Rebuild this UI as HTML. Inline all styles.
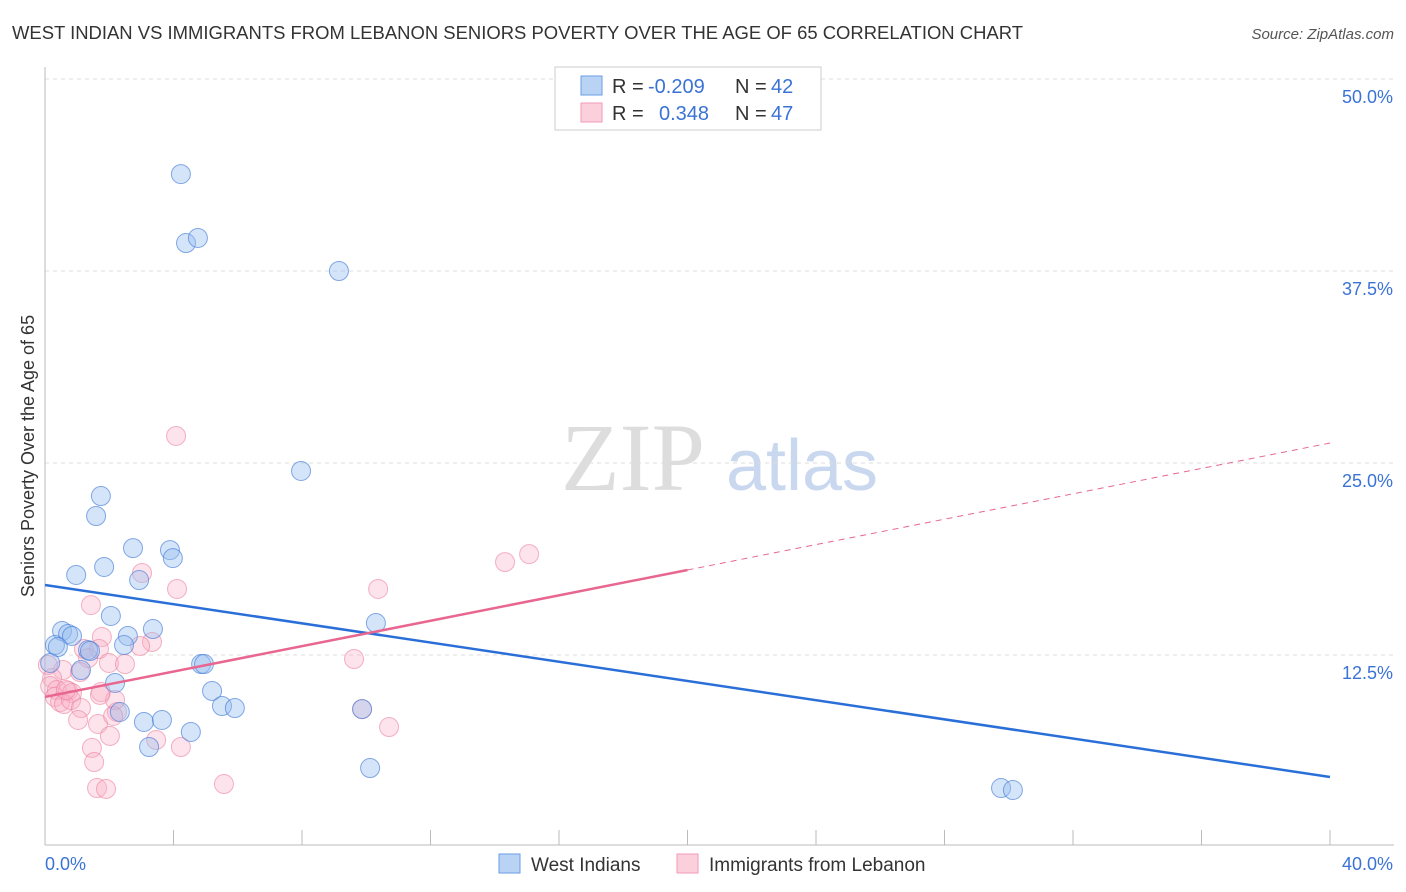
<!DOCTYPE html>
<html><head><meta charset="utf-8"><style>
body{margin:0;background:#fff;font-family:"Liberation Sans",sans-serif;}
svg{display:block}
</style></head><body>
<svg id="chart" width="1406" height="892">
<text x="12" y="39" font-size="18" fill="#333" textLength="1011" lengthAdjust="spacingAndGlyphs">WEST INDIAN VS IMMIGRANTS FROM LEBANON SENIORS POVERTY OVER THE AGE OF 65 CORRELATION CHART</text>
<text x="1394" y="39" font-size="15" fill="#555" font-style="italic" text-anchor="end">Source: ZipAtlas.com</text>
<text x="0" y="0" transform="translate(34,456) rotate(-90)" font-size="18" fill="#333" text-anchor="middle">Seniors Poverty Over the Age of 65</text>
<g><text x="633" y="490" font-size="96" fill="#ddd" font-family="Liberation Serif" text-anchor="middle">ZIP</text><text x="802" y="490" font-size="72" fill="#c9d8ef" text-anchor="middle">atlas</text></g>
<g id="grid"></g><g id="axes"></g><g id="marks"></g><g id="trends"></g>
<g>
<rect x="555" y="67" width="266" height="63" fill="#fff" stroke="#ccc"/>
<rect x="581" y="76" width="21" height="19" fill="#b9d3f5" stroke="#6a9ee6"/>
<rect x="581" y="103" width="21" height="19" fill="#fbd0dc" stroke="#f09ab4"/>
<text x="612" y="93" font-size="20" fill="#333">R =</text>
<text x="648" y="93" font-size="20" fill="#3a73d6">-0.209</text>
<text x="735" y="93" font-size="20" fill="#333">N =</text>
<text x="771" y="93" font-size="20" fill="#3a73d6">42</text>
<text x="612" y="120" font-size="20" fill="#333">R =</text>
<text x="659" y="120" font-size="20" fill="#3a73d6">0.348</text>
<text x="735" y="120" font-size="20" fill="#333">N =</text>
<text x="771" y="120" font-size="20" fill="#3a73d6">47</text>
</g>
<g>
<rect x="499" y="854" width="21" height="19" fill="#b9d3f5" stroke="#6a9ee6"/>
<text x="531" y="871" font-size="19" fill="#333">West Indians</text>
<rect x="677" y="854" width="21" height="19" fill="#fbd0dc" stroke="#f09ab4"/>
<text x="709" y="871" font-size="19" fill="#333">Immigrants from Lebanon</text>
</g>
</svg>
<script>
const yTicks=[12.5,25,37.5,50];
const yTickLabels=["12.5%","25.0%","37.5%","50.0%"];
const xTicks=[0,4,8,12,16,20,24,28,32,36,40];
const blueX=[4.23,4.39,4.76,9.15,7.97,1.74,1.59,2.74,3.89,3.98,0.97,1.84,2.93,2.05,0.53,0.72,0.84,3.36,2.58,10.30,0.31,0.40,2.46,1.34,1.40,0.16,1.12,4.86,4.95,2.18,5.20,5.51,5.91,2.33,3.08,3.64,9.87,4.54,3.24,10.12,29.76,30.13];
const blueY=[43.81,39.32,39.65,37.50,24.48,22.85,21.55,19.46,19.33,18.81,17.71,18.23,17.38,15.04,14.06,13.87,13.74,14.19,13.74,14.58,13.15,13.02,13.15,12.82,12.76,11.98,11.52,11.91,11.91,10.68,10.16,9.18,9.05,8.79,8.14,8.27,8.98,7.49,6.51,5.14,3.84,3.71];
const pinkX=[4.08,15.07,14.32,3.02,10.37,4.11,1.43,1.77,3.33,2.96,1.21,1.68,1.34,9.62,1.99,2.49,0.56,1.09,0.22,0.16,0.37,0.72,0.84,1.74,0.31,0.47,0.59,0.81,1.12,2.24,2.18,9.87,1.65,1.03,10.71,2.02,3.46,1.46,4.23,1.53,5.57,1.62,1.90,0.09,1.71,0.65,2.12];
const pinkY=[26.76,19.07,18.55,17.84,16.80,16.80,15.75,13.67,13.35,13.09,12.89,12.89,12.30,12.24,11.98,11.91,11.52,11.39,11.00,10.48,10.22,10.16,10.03,10.09,9.77,9.44,9.31,9.57,9.05,8.79,9.57,8.98,8.01,8.27,7.81,7.23,6.97,6.45,6.51,5.53,4.10,3.84,3.78,11.85,9.90,10.22,8.53];
const blueTrend=[17.06,4.56];
const pinkTrend=[9.77,26.30];
const pinkSolidEnd=20;
const NS="http://www.w3.org/2000/svg";
const X=v=>45+v/40*1285, Y=v=>847-v/12.5*192;
function mk(tag,attrs,parent){const e=document.createElementNS(NS,tag);for(const k in attrs)e.setAttribute(k,attrs[k]);document.getElementById(parent).appendChild(e);return e;}
yTicks.forEach((t,i)=>{
 const l=mk('line',{x1:45,x2:1394,y1:Y(t),y2:Y(t),stroke:'#ddd','stroke-dasharray':'4,4'},'grid');
 
 
 const tx=mk('text',{x:1393,y:Y(t)+24,'font-size':18,fill:'#3a73d6','text-anchor':'end'},'grid');
 tx.textContent=yTickLabels[i];
 
 
});
const ya=mk('line',{x1:45,x2:45,y1:67,y2:845,stroke:'#bbb'},'axes');


const xa=mk('line',{x1:45,x2:1394,y1:845,y2:845,stroke:'#bbb'},'axes');


xTicks.forEach(t=>{
 const l=mk('line',{x1:X(t),x2:X(t),y1:830,y2:845,stroke:'#bbb'},'axes');
 
 
});
const x0=mk('text',{x:45,y:870,'font-size':18,fill:'#3a73d6'},'axes');x0.textContent='0.0%';


const x1=mk('text',{x:1393,y:870,'font-size':18,fill:'#3a73d6','text-anchor':'end'},'axes');x1.textContent='40.0%';


function pts(xs,ys,fill,stroke,name){xs.forEach((x,i)=>{
 const c=mk('circle',{cx:X(x),cy:Y(ys[i]),r:9.5,fill:fill,stroke:stroke,'stroke-width':1},'marks');
 
 
});}
pts(pinkX,pinkY,'rgba(248,175,198,0.35)','rgba(235,130,160,0.6)','lebanon-point');
pts(blueX,blueY,'rgba(150,190,240,0.4)','rgba(70,125,215,0.65)','west-indians-point');
const bl=mk('line',{x1:X(0),y1:Y(blueTrend[0]),x2:X(40),y2:Y(blueTrend[1]),stroke:'#2a6fd8','stroke-width':2.5},'trends');


const pe=pinkTrend[0]+(pinkTrend[1]-pinkTrend[0])*pinkSolidEnd/40;
const ps=mk('line',{x1:X(0),y1:Y(pinkTrend[0]),x2:X(pinkSolidEnd),y2:Y(pe),stroke:'#e8668f','stroke-width':2.5},'trends');


const pd=mk('line',{x1:X(pinkSolidEnd),y1:Y(pe),x2:X(40),y2:Y(pinkTrend[1]),stroke:'#e8668f','stroke-width':1,'stroke-dasharray':'6,5'},'trends');


</script>
</body></html>
